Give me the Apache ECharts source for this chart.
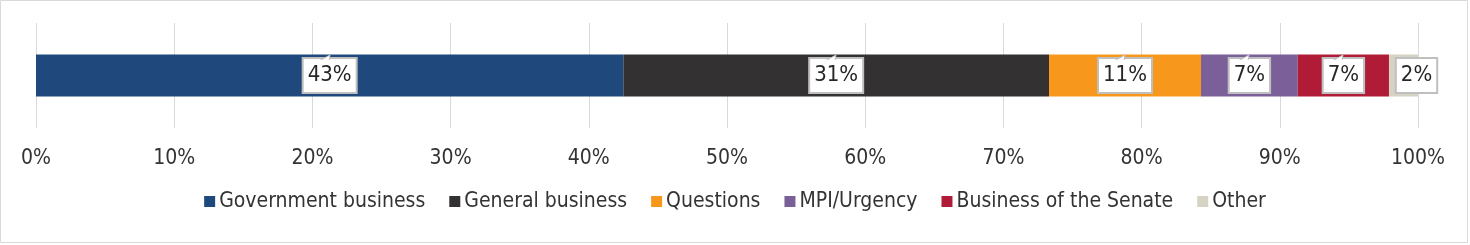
<!DOCTYPE html>
<html>
<head>
<meta charset="utf-8">
<script src="https://cdn.jsdelivr.net/npm/echarts@6/dist/echarts.min.js"></script>
<style>
html,body{margin:0;padding:0;background:#fff;}
#c{width:1470px;height:245px;}
</style>
</head>
<body>
<div id="c"></div>
<script>
const categories = ['Sitting time'];
const seriesNames = ['Government business','General business','Questions','MPI/Urgency','Business of the Senate','Other'];
const seriesValues = [42.5, 30.8, 11.0, 7.0, 6.6, 2.1];
const seriesColors = ['#1F497D','#333132','#F7981D','#7B5F98','#B01C37','#D6D3C4'];
const xTicks = [0,10,20,30,40,50,60,70,80,90,100];

const FONT = "'Liberation Sans Narrow','Arial Narrow','DejaVu Sans Condensed',sans-serif";
const chart = echarts.init(document.getElementById('c'));
const option = {
  animation:false,
  textStyle:{fontFamily:FONT},
  grid:{left:36,right:52,top:23,height:105},
  legend:{
    bottom:28, left:'center',
    itemWidth:11,itemHeight:11,itemGap:24,
    icon:'rect',
    textStyle:{fontFamily:FONT,fontSize:21,color:'#333',padding:[0,0,0,-1]},
    data:seriesNames
  },
  xAxis:{
    type:'value',min:xTicks[0],max:xTicks[xTicks.length-1],interval:xTicks[1]-xTicks[0],
    axisLine:{show:false},axisTick:{show:false},
    splitLine:{lineStyle:{color:'#d9d9d9',width:1}},
    axisLabel:{formatter:'{value}%',fontFamily:FONT,fontSize:21,color:'#333',margin:20}
  },
  yAxis:{type:'category',data:categories,show:false},
  series: seriesNames.map((n,i)=>({
    name:n,type:'bar',stack:'a',barWidth:42,
    data:[seriesValues[i]],
    itemStyle:{color:seriesColors[i]},
    z:2,
    label:{
      show:true,position:'inside',
      offset: i===5 ? [13,0] : [0,0],
      formatter:p=>Math.round(p.value)+'%',
      fontFamily:FONT,fontSize:22,color:'#262626',
      backgroundColor:'#fff',borderColor:'#bfbfbf',borderWidth:2,
      padding:[6,4,5,4]
    }
  }))
};
chart.setOption(option);

// callout tails and outer border
const graphics = [{type:'rect',shape:{x:0.5,y:0.5,width:1467,height:242},style:{fill:'none',stroke:'#d9d9d9',lineWidth:1},silent:true}];
let cum = 0;
seriesValues.forEach((v,i)=>{
  const mid = cum + v/2; cum += v;
  if (i===5) return;
  const p = chart.convertToPixel({gridIndex:0},[mid, categories[0]]);
  const cx = Math.round(p[0]), top = Math.round(p[1]) - 17;
  graphics.push({type:'polygon',z:100,silent:true,
    shape:{points:[[cx-11,top+2],[cx,top-4],[cx-1,top+2]]},
    style:{fill:'#fff',stroke:'#bfbfbf',lineWidth:1}});
  graphics.push({type:'rect',z:101,silent:true,
    shape:{x:cx-11,y:top+1,width:11,height:2},style:{fill:'#fff'}});
});
chart.setOption({graphic:graphics});
</script>
</body>
</html>
